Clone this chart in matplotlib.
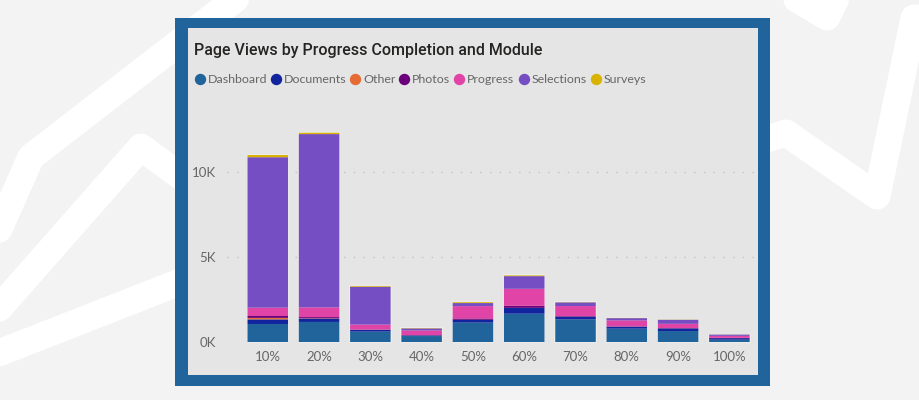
import numpy as np
import matplotlib
matplotlib.use('Agg')
import matplotlib.pyplot as plt
from matplotlib.patches import Rectangle

plt.rcParams['font.family'] = ['Lato', 'DejaVu Sans']

# values
categories = ['10%', '20%', '30%', '40%', '50%', '60%', '70%', '80%', '90%', '100%']
dashboard = [1060, 1180, 610, 350, 1140, 1665, 1335, 785, 645, 135]
documents = [270, 195, 100, 40, 155, 335, 155, 115, 155, 95]
other = [90, 20, 5, 5, 10, 10, 5, 5, 5, 5]
photos = [110, 70, 20, 10, 80, 120, 30, 15, 15, 10]
progress = [490, 570, 290, 275, 725, 1000, 590, 350, 250, 115]
selections = [8850, 10195, 2230, 120, 180, 745, 215, 135, 235, 75]
surveys = [130, 80, 40, 20, 50, 40, 15, 10, 10, 5]

series_names = ['Dashboard', 'Documents', 'Other', 'Photos', 'Progress', 'Selections', 'Surveys']
series_values = [dashboard, documents, other, photos, progress, selections, surveys]
colors = ['#21649b', '#12239e', '#e66c37', '#6b007b', '#e044a7', '#744ec2', '#d9b300']

W, H = 920, 400
fig = plt.figure(figsize=(W / 100, H / 100), dpi=100, facecolor='#f3f3f3')

# background decoration + frame, in pixel coordinates
bg = fig.add_axes([0, 0, 1, 1])
bg.set_xlim(0, W)
bg.set_ylim(H, 0)
bg.axis('off')
swooshes = [
    ([-60, 31, 260], [362, 157, -20]),
    ([-80, 141, 230], [398, 147, 213]),
    ([-60, 300], [376, 235]),
    ([700, 786, 877, 914, 960], [160, 133, 196, 18, 18]),
    ([760, 827, 842], [-23, 17, -14]),
]
for xs, ys in swooshes:
    bg.plot(xs, ys, color='white', lw=27 * 0.72, solid_joinstyle='round', solid_capstyle='round')
bg.add_patch(Rectangle((175, 18), 595, 368, fc='#21649b', ec='none', zorder=5))
bg.add_patch(Rectangle((188, 28), 570, 347, fc='#e5e5e5', ec='none', zorder=6))

# chart area: zero line at y=342, 5K every 85 px
left, right, top, bottom = 227, 754, 125, 342
ax = fig.add_axes([left / W, 1 - bottom / H, (right - left) / W, (bottom - top) / H])
ax.patch.set_alpha(0)
ax.set_xlim(-0.795, 9.48)
ax.set_ylim(0, (bottom - top) / 85 * 5000)

x = np.arange(len(categories))
width = 0.79
totals = np.sum(series_values, axis=0)
ax.bar(x, totals, width, color='none', edgecolor='#efefef', linewidth=1.1, zorder=2, clip_on=False)
base = np.zeros(len(categories))
for name, vals, c in zip(series_names, series_values, colors):
    bars = ax.bar(x, vals, width, bottom=base, color=c, label=name, zorder=3)
    for b in bars:
        b.set_snap(False)
    base += np.array(vals)

ax.set_yticks([0, 5000, 10000])
ax.set_yticklabels(['0K', '5K', '10K'])
ax.set_xticks(x)
ax.set_xticklabels(categories)
ax.tick_params(axis='both', length=0, labelcolor='#666666', labelsize=9.5)
ax.tick_params(axis='y', pad=8)
ax.tick_params(axis='x', pad=6.5)
ax.grid(axis='y', color='#c4c4c4', linewidth=1, linestyle=(0, (1, 6)), zorder=1)
ax.grid(axis='x', visible=False)
for s in ax.spines.values():
    s.set_visible(False)

fig.text(194 / W, 1 - 50 / H, 'Page Views by Progress Completion and Module',
         fontsize=11.5, color='#252423', va='center', ha='left', fontweight='medium',
         family=['Roboto', 'DejaVu Sans'])

# legend placed by hand, dots at the reference's pixel positions
legend_x = [200, 276, 355, 404, 459, 524, 596]
for lx, name, c in zip(legend_x, series_names, colors):
    bg.plot([lx], [79], marker='o', ms=8.2, mew=0, color=c, zorder=7)
    bg.text(lx + 8, 79.5, name, fontsize=8.9, color='#666666', va='center', ha='left', zorder=7)

fig.savefig('out.png', dpi=100, facecolor=fig.get_facecolor())
